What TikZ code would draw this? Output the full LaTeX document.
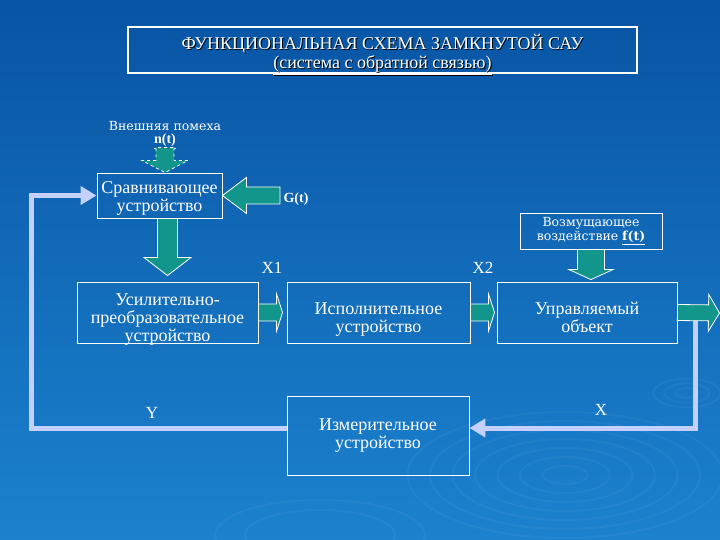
\documentclass[tikz,border=0pt]{standalone}
\usepackage{fontspec}
\setmainfont{Liberation Serif}
\newfontfamily\notefont{DejaVu Serif}
\usetikzlibrary{calc,arrows.meta}
\definecolor{bgtop}{RGB}{8,84,164}
\definecolor{bgbot}{RGB}{28,130,206}
\definecolor{tealfill}{RGB}{18,150,140}
\definecolor{fbline}{RGB}{196,208,255}

% block arrow: [style]{from}{to}{shaft half width}{head half width}{head length}
\newcommand\blockarr[6][]{%
  \coordinate (ba-s) at (#2);
  \coordinate (ba-t) at (#3);
  \coordinate (ba-h) at ($(ba-t)!#6!(ba-s)$);
  \draw[#1] ($(ba-s)!#4!90:(ba-t)$) -- ($(ba-h)!#4!90:(ba-t)$) -- ($(ba-h)!#5!90:(ba-t)$)
    -- (ba-t) -- ($(ba-h)!#5!-90:(ba-t)$) -- ($(ba-h)!#4!-90:(ba-t)$)
    -- ($(ba-s)!#4!-90:(ba-t)$) -- cycle;
}

\begin{document}
\begin{tikzpicture}[x=1pt,y=-1pt,
  box/.style={draw=white, line width=0.9pt, text=white, align=center,
    font=\fontsize{18}{18}\selectfont, inner sep=0pt},
  lbl/.style={text=white, font=\fontsize{17}{18}\selectfont},
  note/.style={text=white, font=\notefont\fontsize{12.5}{14}\selectfont},
  tealarr/.style={fill=tealfill, draw=white, line width=0.8pt},
  fb/.style={draw=fbline, line width=5pt, -{Triangle[length=16pt,width=18pt]}},
  ripple/.style={white, opacity=0.045, line width=2pt}]

  % background
  \shade[top color=bgtop, bottom color=bgbot] (0,0) rectangle (720,540);
  \useasboundingbox (0,0) rectangle (720,540);
  \begin{scope}
    \clip (0,0) rectangle (720,540);
    \foreach \r in {15,30,...,105}
      \draw[ripple] (565,475) ellipse [x radius=1.5*\r, y radius=0.6*\r];
    \foreach \r in {8,16,24}
      \draw[ripple] (687,393) ellipse [x radius=1.4*\r, y radius=0.6*\r];
    \foreach \r in {50,70}
      \draw[ripple] (320,535) ellipse [x radius=1.5*\r, y radius=0.5*\r];
  \end{scope}

  % title
  \node[draw=white, line width=1.5pt, minimum width=509, minimum height=46] (title) at (382.5,50) {};
  \node[text=black, align=center, font=\fontsize{18}{19}\selectfont] (title-sh) at (383.5,55.5)
    {ФУНКЦИОНАЛЬНАЯ СХЕМА ЗАМКНУТОЙ САУ\\\underline{(система с обратной связью)}};
  \node[text=white, align=center, font=\fontsize{18}{19}\selectfont] (title-tx) at (382.5,54.5)
    {ФУНКЦИОНАЛЬНАЯ СХЕМА ЗАМКНУТОЙ САУ\\\underline{(система с обратной связью)}};

  % feedback loop
  \coordinate (fbtop) at (695,318);
  \coordinate (fbbr) at (695,428);
  \coordinate (fbbl) at (31,428);

  % blocks
  \node[box, minimum width=125, minimum height=45, text height=36pt, text depth=4pt] (srav) at (159.5,195.5) {Сравнивающее\\устройство};
  \node[box, minimum width=181, minimum height=61, text height=58pt, text depth=0pt] (usil) at (167.5,312.5) {Усилительно-\\преобразовательное\\устройство};
  \node[box, minimum width=183, minimum height=61, text height=44pt, text depth=4pt] (isp) at (378.5,312.5) {Исполнительное\\устройство};
  \node[box, minimum width=180, minimum height=61, text height=44pt, text depth=4pt] (obj) at (587,312.5) {Управляемый\\объект};
  \node[box, minimum width=182, minimum height=79] (izm) at (378,436) {Измерительное\\устройство};
  \node[box, note, minimum width=142, minimum height=36] (vozm) at (591,231) {Возмущающее\\воздействие \textbf{\underline{f(t)}}};

  \draw[fb] (fbtop) -- (fbbr) -- ([yshift=8pt]izm.east);
  \draw[fb] ([yshift=8pt]izm.west) -- (fbbl) |- (srav.west);

  % labels
  \node[note, inner sep=1pt] (pomeha) at (165,126) {Внешняя помеха};
  \node[text=white, inner sep=1pt, font=\bfseries\fontsize{14}{16}\selectfont] (nt) at (165,141) {\underline{n(t)}};
  \node[text=white, font=\bfseries\fontsize{14}{16}\selectfont] (gt) at (296,199) {G(t)};
  \node[lbl] (x1) at (272,268) {X1};
  \node[lbl] (x2) at (483,268) {X2};
  \node[lbl] (y) at (152,413) {Y};
  \node[lbl] (x) at (601,410) {X};

  % block arrows
  \blockarr[tealarr, dashed]{$(nt.south)+(0,-2)$}{nt.south |- srav.north}{9pt}{23pt}{12pt}
  \blockarr[tealarr]{gt.west |- srav.east}{srav.east}{8.5pt}{18pt}{24pt}
  \blockarr[tealarr]{usil.north |- srav.south}{$(usil.north)+(0,-6)$}{10pt}{23.5pt}{18pt}
  \blockarr[tealarr]{vozm.south}{$(vozm.south |- obj.north)+(0,-2)$}{13.5pt}{22pt}{10pt}
  \blockarr[tealarr]{usil.east}{$(isp.west)+(-4,0)$}{8.5pt}{18.5pt}{6pt}
  \blockarr[tealarr]{isp.east}{$(obj.west)+(-2,0)$}{8.5pt}{18.5pt}{6pt}
  \coordinate (out) at (719.5,313);
  \blockarr[tealarr]{obj.east}{out}{8pt}{18.5pt}{11pt}
\end{tikzpicture}
\end{document}
